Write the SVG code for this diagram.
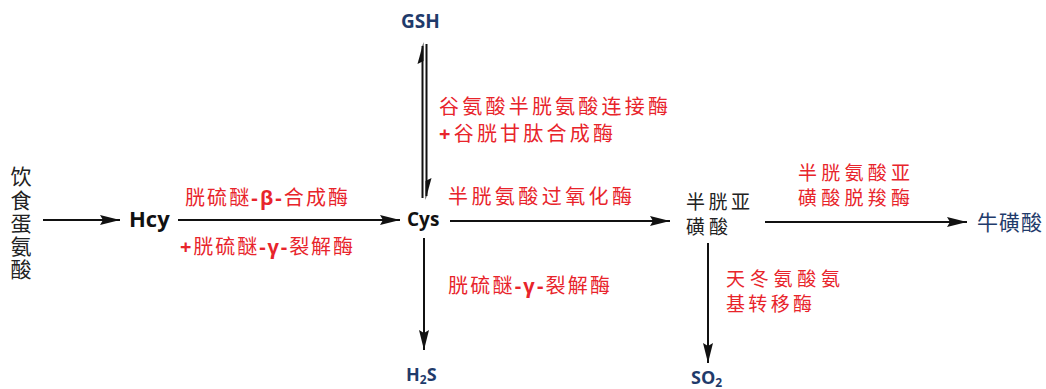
<svg xmlns="http://www.w3.org/2000/svg" width="1046" height="389" viewBox="0 0 1046 389">
<style>
.red{fill:#e8242b;font-size:20px;font-family:"Noto Sans CJK SC","Noto Sans",sans-serif;}
.red2{font-size:19px;}
.blk{fill:#222;font-size:21px;font-family:"Noto Sans CJK SC","Noto Sans",sans-serif;}
.blk2{font-size:19px;}
.blue{fill:#1f3b6b;}
.lat{font-family:"Open Sans","Liberation Sans",sans-serif;font-weight:bold;}
.b{font-weight:bold;font-family:"Open Sans","Liberation Sans",sans-serif;}
.ln{stroke:#111;stroke-width:2;fill:none;}
</style>
<defs>
<marker id="ah" markerUnits="userSpaceOnUse" markerWidth="22" markerHeight="12" refX="20" refY="5" orient="auto">
<path d="M0,0 L20,5 L0,10 L3,5 z" fill="#111"/>
</marker>
</defs>

<g id="n-met">
<text class="blk" x="21" y="166" writing-mode="vertical-rl" textLength="114" lengthAdjust="spacing">饮食蛋氨酸</text>
</g>
<g id="n-hcy"><text class="lat" x="129" y="227" font-size="22" fill="#111">Hcy</text></g>
<g id="n-cys"><text class="lat" x="407" y="226" font-size="19" fill="#111">Cys</text></g>
<g id="n-gsh"><text class="lat blue" x="401" y="28" font-size="19">GSH</text></g>
<g id="n-h2s"><text class="lat blue" x="406" y="381" font-size="18">H<tspan font-size="12" dy="3">2</tspan><tspan dy="-3">S</tspan></text></g>
<g id="n-so2"><text class="lat blue" x="691" y="384" font-size="18">SO<tspan font-size="12" dy="3">2</tspan></text></g>
<g id="n-csa">
<text class="blk blk2" x="686" y="209" textLength="64" lengthAdjust="spacing">半胱亚</text>
<text class="blk blk2" x="686" y="234" textLength="42" lengthAdjust="spacing">磺酸</text>
</g>
<g id="n-tau"><text class="blk blue" x="977" y="230" textLength="65" lengthAdjust="spacing">牛磺酸</text></g>

<g id="labels">
<text class="red" x="185" y="205" textLength="163" lengthAdjust="spacing">胱硫醚<tspan class="b">-β-</tspan>合成酶</text>
<text class="red" x="180" y="254" textLength="173" lengthAdjust="spacing"><tspan class="b">+</tspan>胱硫醚<tspan class="b">-γ-</tspan>裂解酶</text>
<text class="red" x="448" y="204" textLength="184" lengthAdjust="spacing">半胱氨酸过氧化酶</text>
<text class="red" x="448" y="293" textLength="162" lengthAdjust="spacing">胱硫醚<tspan class="b">-γ-</tspan>裂解酶</text>
<text class="red" x="439" y="114" textLength="229" lengthAdjust="spacing">谷氨酸半胱氨酸连接酶</text>
<text class="red" x="439" y="141" textLength="174" lengthAdjust="spacing"><tspan class="b">+</tspan>谷胱甘肽合成酶</text>
<text class="red red2" x="798" y="180" textLength="112" lengthAdjust="spacing">半胱氨酸亚</text>
<text class="red red2" x="798" y="205" textLength="112" lengthAdjust="spacing">磺酸脱羧酶</text>
<text class="red red2" x="726" y="286" textLength="114" lengthAdjust="spacing">天冬氨酸氨</text>
<text class="red red2" x="726" y="311" textLength="86" lengthAdjust="spacing">基转移酶</text>
</g>

<g id="connectors">
<line class="ln" x1="43" y1="220" x2="120" y2="220" marker-end="url(#ah)"/>
<line class="ln" x1="178" y1="220" x2="400" y2="220" marker-end="url(#ah)"/>
<line class="ln" x1="450" y1="221" x2="670" y2="221" marker-end="url(#ah)"/>
<line class="ln" x1="765" y1="222" x2="967" y2="222" marker-end="url(#ah)"/>
<line class="ln" x1="424" y1="238" x2="424" y2="350" marker-end="url(#ah)"/>
<line class="ln" x1="708" y1="243" x2="708" y2="363" marker-end="url(#ah)"/>
<line class="ln" x1="422.5" y1="46" x2="422.5" y2="198"/>
<path d="M423.5,42 L417.5,64 L423.5,61 z" fill="#111"/>
<line class="ln" x1="426.5" y1="44" x2="426.5" y2="196"/>
<path d="M425.5,200 L431.5,178 L425.5,181 z" fill="#111"/>
</g>
</svg>
